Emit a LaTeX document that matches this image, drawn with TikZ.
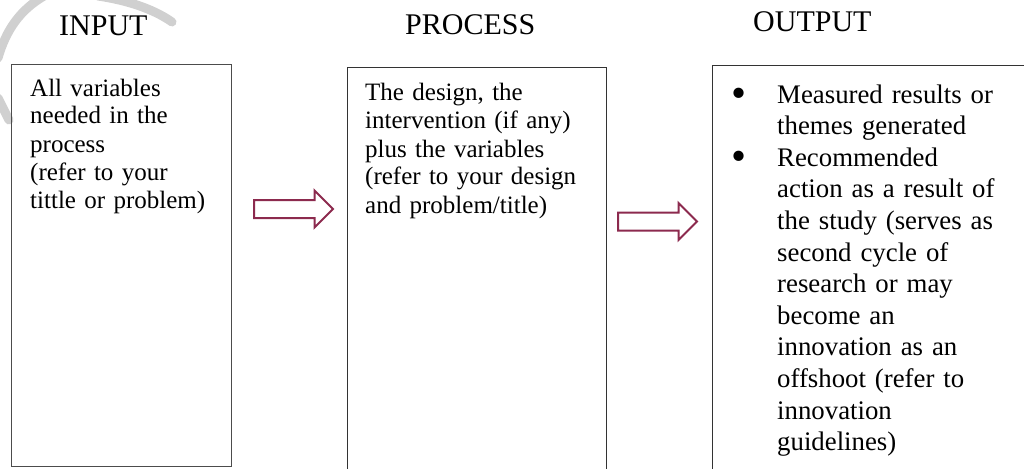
\documentclass[tikz,border=0pt]{standalone}
\usepackage{fontspec}
\setmainfont{Liberation Serif}
\usetikzlibrary{shapes.arrows}

\definecolor{arrowred}{RGB}{140,42,78}
\definecolor{markgray}{RGB}{208,208,208}

\newcommand{\bigbullet}{\raisebox{-4.5pt}{\scalebox{1.6}{\textbullet}}}

\begin{document}
\begin{tikzpicture}[x=1pt,y=-1pt]
\tikzstyle{title}=[anchor=base west, inner sep=0pt, font=\fontsize{30}{34}\selectfont]
\tikzstyle{box}=[draw=black!80, line width=1pt, anchor=north west, inner sep=0pt]
\tikzstyle{txt}=[anchor=base west, inner sep=0pt, align=left, font=\fontsize{25}{28}\selectfont]
\tikzstyle{bigtxt}=[anchor=base west, inner sep=0pt, align=left, text width=240pt, font=\fontsize{26.8}{31.6}\selectfont]
\tikzstyle{flow}=[single arrow, draw=arrowred, line width=2pt, fill=white, inner xsep=0pt, inner ysep=8pt,
  minimum height=79pt, single arrow head extend=9.5pt, anchor=tail]

\clip (0,0) rectangle (1024,468);

% faint watermark in the corner
\begin{scope}[draw=markgray, line width=9pt, line cap=round]
\draw (-2,58) .. controls (6,30) and (20,10) .. (44,-4);
\draw (98,-4) .. controls (125,0) and (152,8) .. (172,22);
\draw (-2,98) -- (9,120);
\end{scope}

% titles
\node[title] (tin) at (59,36) {INPUT};
\node[title] (tproc) at (405,35) {PROCESS};
\node[title] (tout) at (753,32) {OUTPUT};

% boxes
\node[box, draw=black!70, line width=1.3pt, minimum width=220pt, minimum height=402pt] (inbox) at (11,64) {};
\node[box, minimum width=259pt, minimum height=420pt] (procbox) at (346.5,67.5) {};
\node[box, minimum width=330pt, minimum height=420pt] (outbox) at (711.5,65.5) {};

% box texts
\node[txt, text width=195pt] (intext) at (30,96) {All variables\\needed in the\\process\\(refer to your\\tittle or problem)};
\node[txt, text width=235pt] (proctext) at (365,101) {The design, the\\intervention (if any)\\plus the variables\\(refer to your design\\and problem/title)};

\node[bigtxt, text width=20pt] (bul1) at (731,103) {\bigbullet};
\node[bigtxt] (out1) at (777,103) {Measured results or\\themes generated};
\node[bigtxt, text width=20pt] (bul2) at (731,166.2) {\bigbullet};
\node[bigtxt] (out2) at (777,166.2) {Recommended\\action as a result of\\the study (serves as\\second cycle of\\research or may\\become an\\innovation as an\\offshoot (refer to\\innovation\\guidelines)};

% block arrows
\node[flow] (arr1) at (253,209) {};
\node[flow] (arr2) at (617,221.5) {};
\end{tikzpicture}
\end{document}
